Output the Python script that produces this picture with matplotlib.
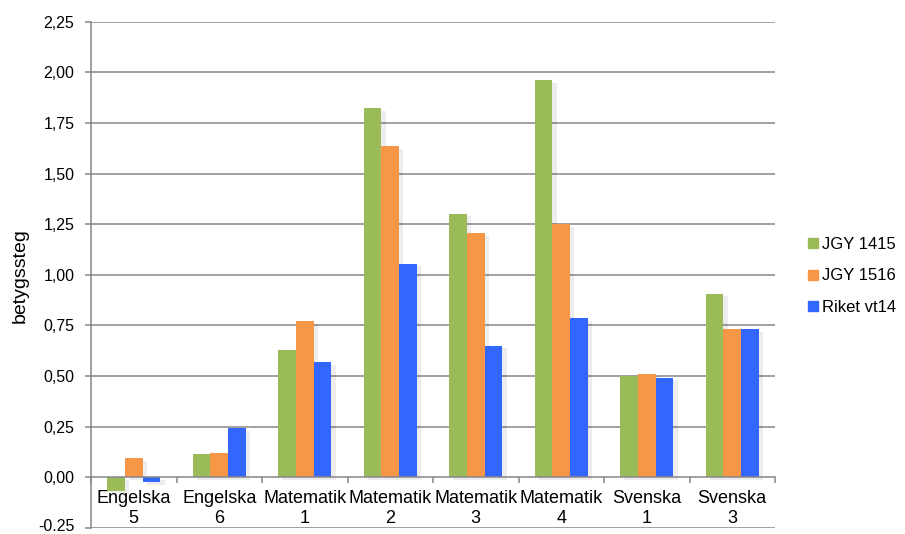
import matplotlib
matplotlib.use("Agg")
import matplotlib.pyplot as plt
import matplotlib.patheffects as pe
import matplotlib.transforms as mtransforms
from matplotlib.lines import Line2D
import numpy as np

plt.rcParams['font.family'] = ['Liberation Sans', 'DejaVu Sans']

categories = ["Engelska\n5", "Engelska\n6", "Matematik\n1", "Matematik\n2",
              "Matematik\n3", "Matematik\n4", "Svenska\n1", "Svenska\n3"]
series_names = ["JGY 1415", "JGY 1516", "Riket vt14"]
jgy1415 = [-0.066, 0.115, 0.63, 1.825, 1.302, 1.963, 0.502, 0.907]
jgy1516 = [0.093, 0.122, 0.77, 1.637, 1.205, 1.252, 0.512, 0.73]
riket = [-0.025, 0.243, 0.57, 1.055, 0.65, 0.788, 0.492, 0.73]
colors = ["#9BBB59", "#F79646", "#3366FF"]
yticks = [-0.25, 0.0, 0.25, 0.5, 0.75, 1.0, 1.25, 1.5, 1.75, 2.0, 2.25]
ytick_labels = ["-0.25", "0,00", "0,25", "0,50", "0,75", "1,00", "1,25",
                "1,50", "1,75", "2,00", "2,25"]

fig = plt.figure(figsize=(9.05, 5.34), dpi=100)
ax = fig.add_axes([91/905, 6.1/534, 684/905, 506.2/534])

x = np.arange(len(categories))
w = 0.208
grid_c = "#868686"
for i, (vals, c, name) in enumerate(zip([jgy1415, jgy1516, riket], colors, series_names)):
    bars = ax.bar(x + (i - 1) * w, vals, width=w, color=c, label=name, zorder=3)
    for b in bars:
        b.set_path_effects([pe.SimplePatchShadow(offset=(3, -2), shadow_rgbFace='#000000', alpha=0.07),
                            pe.Normal()])

ax.set_xlim(-0.5, len(categories) - 0.5)
ax.set_ylim(-0.25, 2.25)
ax.set_yticks(yticks)
ax.set_yticklabels(ytick_labels, fontsize=11.5)
for yv in yticks:
    if yv != 0:
        ax.axhline(yv, color=grid_c, lw=1.1, zorder=1)

for s in ['top', 'right']:
    ax.spines[s].set_visible(False)
ax.spines['left'].set_color(grid_c)
ax.spines['left'].set_linewidth(1.1)
ax.spines['bottom'].set_position(('data', 0))
ax.spines['bottom'].set_color(grid_c)
ax.spines['bottom'].set_linewidth(1.1)
ax.spines['bottom'].set_zorder(4)

ax.set_xticks(np.arange(len(categories) + 1) - 0.5)
ax.set_xticklabels([])
ax.set_xticks(x, minor=True)
ax.set_xticklabels(categories, minor=True, fontsize=13, linespacing=1.27)
ax.tick_params(axis='x', which='major', length=4, color=grid_c, width=1.1, direction='out')
ax.tick_params(axis='x', which='minor', length=0, pad=9)
ax.tick_params(axis='y', length=4, color=grid_c, width=1.1, pad=8)

# nudge the lowest y tick label up slightly so it stays inside the figure
low = ax.get_yticklabels()[0]
low.set_transform(low.get_transform() + mtransforms.ScaledTranslation(0, 3/100, fig.dpi_scale_trans))

fig.text(20/905, (534-276)/534, "betygssteg", rotation=90, fontsize=14,
         ha='center', va='center')

handles = [Line2D([], [], marker='s', linestyle='', color=c, markersize=7) for c in colors]
fig.legend(handles, series_names, loc='center left',
           bbox_to_anchor=(806/905, (534-276)/534), frameon=False, fontsize=12,
           handletextpad=0.15, labelspacing=1.0, handlelength=0.8,
           borderaxespad=0, borderpad=0)

fig.savefig("out.png", dpi=100)
